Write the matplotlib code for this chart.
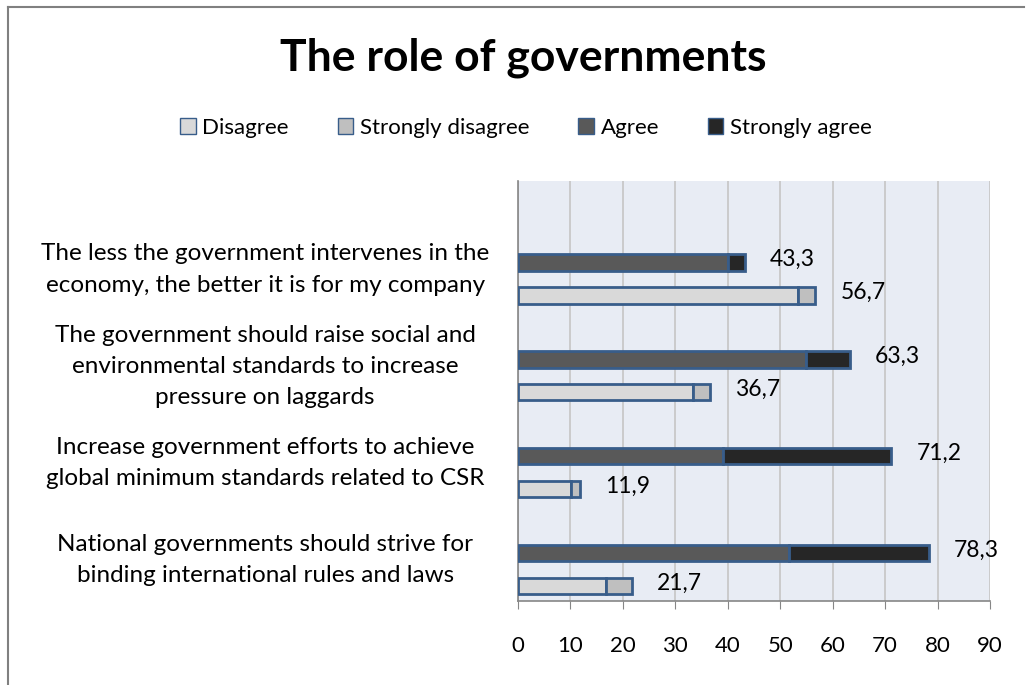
import numpy as np
import matplotlib.pyplot as plt
from matplotlib.patches import Patch
from matplotlib.lines import Line2D

plt.rcParams['font.family'] = ['Lato', 'DejaVu Sans']

# ============================================
# DATA
# ============================================
categories = [
    "The less the government intervenes in the\neconomy, the better it is for my company",
    "The government should raise social and\nenvironmental standards to increase\npressure on laggards",
    "Increase government efforts to achieve\nglobal minimum standards related to CSR",
    "National governments should strive for\nbinding international rules and laws",
]
agree             = [40.0, 55.0, 39.0, 51.7]
strongly_agree    = [3.3, 8.3, 32.2, 26.6]
disagree          = [53.3, 33.3, 10.2, 16.7]
strongly_disagree = [3.4, 3.4, 1.7, 5.0]

legend_names = ["Disagree", "Strongly disagree", "Agree", "Strongly agree"]
colors = ["#D9D9D9", "#BFBFBF", "#595959", "#262626"]
edge = "#385D8A"

# ============================================
# FIGURE
# ============================================
fig = plt.figure(figsize=(10.3, 6.85), dpi=100)
ax = fig.add_axes([518 / 1030, 84 / 685, 472 / 1030, 420 / 685])
ax.set_facecolor("#E8ECF4")

pos = np.arange(len(categories))
off = 0.17
h = 0.17
y_top = pos - off
y_bot = pos + off

ax.barh(y_top, agree, height=h, color=colors[2], edgecolor=edge, lw=2, zorder=3)
ax.barh(y_top, strongly_agree, left=agree, height=h, color=colors[3],
        edgecolor=edge, lw=2, zorder=3)
ax.barh(y_bot, disagree, height=h, color=colors[0], edgecolor=edge, lw=2, zorder=3)
ax.barh(y_bot, strongly_disagree, left=disagree, height=h, color=colors[1],
        edgecolor=edge, lw=2, zorder=3)

tot_agree = np.array(agree) + np.array(strongly_agree)
tot_dis = np.array(disagree) + np.array(strongly_disagree)
for y, t in zip(y_top, tot_agree):
    ax.annotate(f"{t:.1f}".replace(".", ","), xy=(t, y), xytext=(18, 2),
                textcoords="offset points", va="center", ha="left", fontsize=16.5)
for y, t in zip(y_bot, tot_dis):
    ax.annotate(f"{t:.1f}".replace(".", ","), xy=(t, y), xytext=(18, 2),
                textcoords="offset points", va="center", ha="left", fontsize=16.5)

ax.set_xlim(0, 90)
ax.set_xticks(np.arange(0, 91, 10))
ax.set_ylim(3.325, -1.01)
ax.set_yticks(y_top)
ax.set_yticklabels(categories, fontsize=17.5, ha="center", multialignment="center",
                   linespacing=1.6)
ax.tick_params(axis="y", length=0, pad=182)
ax.tick_params(axis="x", direction="out", length=6, color="#868686",
               labelsize=16, pad=19)
ax.grid(axis="x", color="#C8C8C8", lw=1.3, zorder=0)
for s in ["top", "right"]:
    ax.spines[s].set_visible(False)
ax.spines["left"].set_color("#868686")
ax.spines["bottom"].set_color("#868686")
ax.spines["left"].set_linewidth(1.2)
ax.spines["bottom"].set_linewidth(1.2)

# title and legend
fig.text(523 / 1030, 1 - 58 / 685, "The role of governments", ha="center",
         va="center", fontsize=32, fontweight="bold")
handles = [Patch(facecolor=c, edgecolor=edge, lw=1) for c in colors]
fig.legend(handles, legend_names, loc="center", bbox_to_anchor=(526 / 1030, 1 - 128 / 685),
           ncol=4, frameon=False, fontsize=16, handlelength=0.7, handleheight=0.7,
           handletextpad=0.3, columnspacing=2.2)

# outer chart frame
fig.add_artist(Line2D([8 / 1030, 8 / 1030], [0, 1 - 7 / 685], color="#808080", lw=1.5))
fig.add_artist(Line2D([8 / 1030, 1024 / 1030], [1 - 7 / 685, 1 - 7 / 685],
                      color="#808080", lw=1.5))

fig.savefig("out.png", dpi=100)
